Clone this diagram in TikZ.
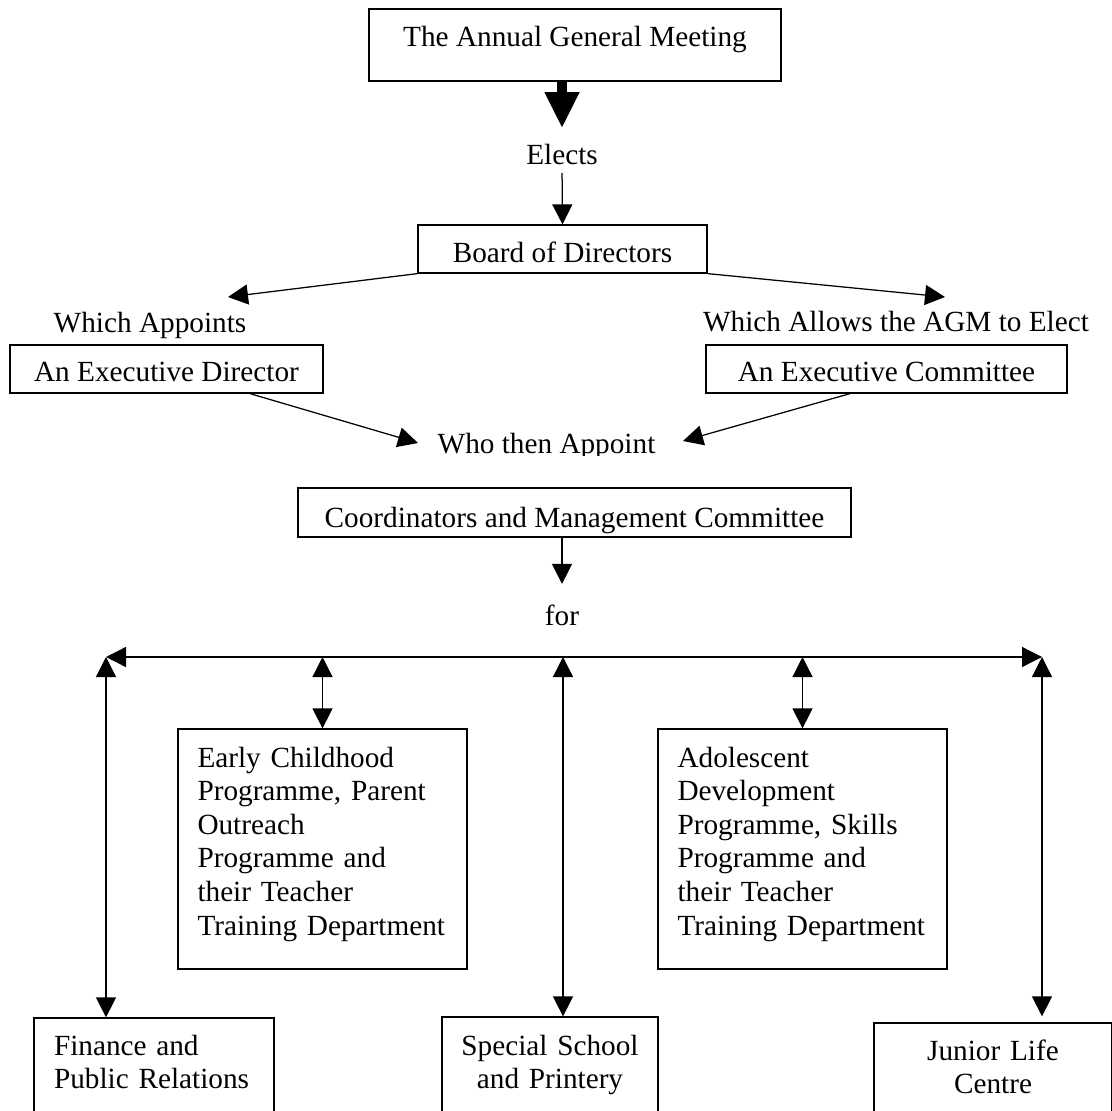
\documentclass[tikz,border=0pt]{standalone}
\usepackage{fontspec}
\setmainfont{Liberation Serif}
\usetikzlibrary{arrows.meta}

\begin{document}
\begin{tikzpicture}[x=0.4pt,y=-0.4pt,
    font=\fontsize{11.7}{13.44}\selectfont,
    box/.style={draw,line width=0.5pt,anchor=base,inner ysep=0pt},
    lbl/.style={anchor=base,inner sep=0pt},
    arr/.style={line width=0.5pt,-{Triangle[length=8pt,width=8pt]}},
    dblarr/.style={line width=0.5pt,
      {Triangle[length=8pt,width=8pt]}-{Triangle[length=8pt,width=8pt]}}]

  \clip (0,0) rectangle (1112,1111);

  \node [box,minimum width=164.8pt,text height=15.2pt,text depth=13.6pt]
        (agm) at (575,47) {The Annual General Meeting};

  \node [lbl] (elects) at (562,165) {Elects};

  \node [box,minimum width=115.6pt,text height=15.2pt,text depth=4pt]
        (board) at (562.5,263) {Board of Directors};

  \node [lbl] (appoints) at (150,333) {Which Appoints};
  \node [lbl] (allows) at (896,332) {Which Allows the AGM to Elect};

  \node [box,minimum width=125.2pt,text height=14.8pt,text depth=4.4pt]
        (execDir) at (166.5,382) {An Executive Director};
  \node [box,minimum width=144.4pt,text height=14.8pt,text depth=4.4pt]
        (execCom) at (886.5,382) {An Executive Committee};

  \begin{scope}
    \clip (0,0) rectangle (1112,456);
    \node [lbl] (whoApp) at (546.5,453) {Who then Appoint};
  \end{scope}

  \node [box,minimum width=221.2pt,text height=15.6pt,text depth=4pt]
        (coord) at (574.5,527) {Coordinators and Management Committee};

  \node [lbl] (forLbl) at (562,625) {for};

  \node [box,inner xsep=7.8pt,text width=100pt,align=left,
         text height=15.2pt,text depth=80.8pt]
        (early) at (322.5,767) {Early Childhood\\
          Programme, Parent\\ Outreach\\ Programme and\\
          their Teacher\\ Training Department};
  \node [box,inner xsep=7.8pt,text width=100pt,align=left,
         text height=15.2pt,text depth=80.8pt]
        (adol) at (802.5,767) {Adolescent\\ Development\\
          Programme, Skills\\ Programme and\\
          their Teacher\\ Training Department};

  \node [box,inner xsep=8pt,text width=80pt,align=left,
         text height=14.8pt,text depth=30pt]
        (finance) at (154,1055) {Finance and\\ Public Relations};
  \node [box,inner xsep=6pt,text width=74.4pt,align=center,
         text height=15.2pt,text depth=30pt]
        (special) at (550,1055) {Special School\\ and Printery};
  \node [box,inner xsep=6pt,text width=83.2pt,align=center,
         text height=14.8pt,text depth=28pt]
        (junior) at (993,1060) {Junior Life\\ Centre};

  \coordinate (toAppoints) at (228,297);
  \coordinate (toAllows) at (945,297);
  \coordinate (whoLeft) at (418,443);
  \coordinate (whoRight) at (683,441);
  \coordinate (busL) at (106,657);
  \coordinate (busR) at (1042,657);
  \coordinate (busMid) at (563,657);

  \draw [line width=4pt,shorten >=6.8pt,
         -{Triangle[length=14pt,width=14pt,line width=0.5pt]}]
        (agm.south -| elects) -- (elects.north);
  \draw [arr,shorten <=2.8pt] (elects.south) -- (board.north);

  \draw [arr] (board.south west) -- (toAppoints);
  \draw [arr] (board.south east) -- (toAllows);

  \draw [arr] ([xshift=33.4pt]execDir.south) -- (whoLeft);
  \draw [arr] ([xshift=-14.6pt]execCom.south) -- (whoRight);

  \draw [arr,shorten >=8pt] (coord.south -| forLbl) -- (forLbl.north);

  \draw [dblarr] (busL) -- (busR);
  \draw [dblarr] (busL) -- (busL |- finance.north);
  \draw [dblarr] (early.north |- busL) -- (early.north);
  \draw [dblarr] (busMid) -- (busMid |- special.north);
  \draw [dblarr] (adol.north |- busL) -- (adol.north);
  \draw [dblarr,shorten >=2.4pt] (busR) -- (busR |- junior.north);

\end{tikzpicture}
\end{document}
